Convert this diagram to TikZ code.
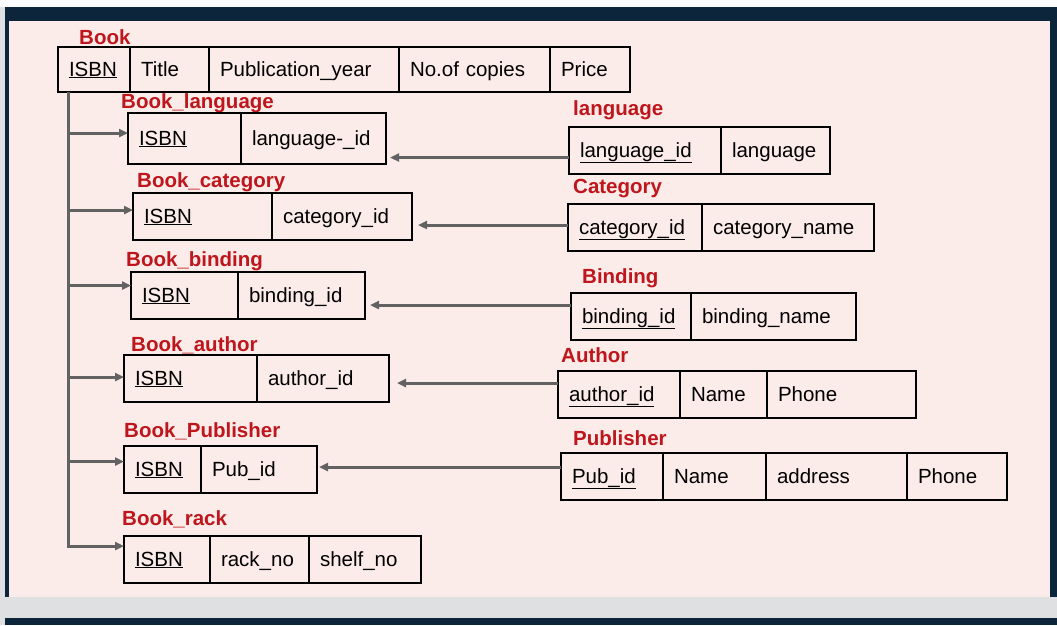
\documentclass[tikz,border=0pt]{standalone}
\usepackage{fontspec}
\setmainfont{Liberation Sans}
\usetikzlibrary{positioning,arrows.meta}
\definecolor{slidenavy}{RGB}{12,37,58}
\definecolor{slidepink}{RGB}{252,236,233}
\definecolor{slidegray}{RGB}{222,224,225}
\definecolor{tblred}{RGB}{190,22,28}
\definecolor{linkgray}{RGB}{98,98,98}

\begin{document}
\begin{tikzpicture}[x=1pt, y=-1pt,
    every node/.style={font=\fontsize{20.5}{24}\selectfont},
    cell/.style={rectangle, draw=black, line width=2.2pt, outer sep=0pt,
        inner xsep=11pt, text height=13pt, text depth=0pt, align=left,
        minimum height=47pt, minimum width=#1, text width=#1-22pt},
    tname/.style={text=tblred, font=\fontsize{20.5}{24}\selectfont\bfseries,
        anchor=base west, inner sep=0pt},
    link/.style={linkgray, line width=3pt},
    fk/.style={link, -{Triangle[length=9pt,width=8pt]}}
]
    % slide background
    \fill[slidegray] (0,0) rectangle (1057,625);
    \fill[white!92!slidegray] (0,0) rectangle (1057,7);
    \fill[slidenavy] (5,7) rectangle (1057,597);
    \fill[slidepink] (9,21) rectangle (1050,597);
    \fill[slidenavy] (5,618) rectangle (1057,625);
    \useasboundingbox (0,0) rectangle (1057,625);

    % Book
    \node[tname] (t-book) at (79,44) {Book};
    \node[cell=72pt, minimum height=45pt, anchor=north west] (book-isbn) at (58,47) {\underline{ISBN}};
    \node[cell=79pt, minimum height=45pt, right=0pt of book-isbn] (book-title) {Title};
    \node[cell=190pt, minimum height=45pt, right=0pt of book-title] (book-year) {Publication\_year};
    \node[cell=151pt, minimum height=45pt, right=0pt of book-year] (book-copies) {No.of copies};
    \node[cell=80pt, minimum height=45pt, right=0pt of book-copies] (book-price) {Price};

    % link tables
    \node[tname] (t-bl) at (121,108) {Book\_language};
    \node[cell=113pt, minimum height=51pt, anchor=north west] (bl-isbn) at (128,113) {\underline{ISBN}};
    \node[cell=145pt, minimum height=51pt, right=0pt of bl-isbn] (bl-lang) {language-\_id};

    \node[tname] (t-bc) at (137,187) {Book\_category};
    \node[cell=139pt, anchor=north west] (bc-isbn) at (133,193) {\underline{ISBN}};
    \node[cell=140pt, right=0pt of bc-isbn] (bc-cat) {category\_id};

    \node[tname] (t-bb) at (126,266) {Book\_binding};
    \node[cell=107pt, anchor=north west] (bb-isbn) at (131,272) {\underline{ISBN}};
    \node[cell=127pt, right=0pt of bb-isbn] (bb-bind) {binding\_id};

    \node[tname] (t-ba) at (131,351) {Book\_author};
    \node[cell=133pt, anchor=north west] (ba-isbn) at (124,355) {\underline{ISBN}};
    \node[cell=132pt, right=0pt of ba-isbn] (ba-auth) {author\_id};

    \node[tname] (t-bp) at (124,437) {Book\_Publisher};
    \node[cell=77pt, anchor=north west] (bp-isbn) at (124,446) {\underline{ISBN}};
    \node[cell=116pt, right=0pt of bp-isbn] (bp-pub) {Pub\_id};

    \node[tname] (t-br) at (122,525) {Book\_rack};
    \node[cell=86pt, anchor=north west] (br-isbn) at (124,536) {\underline{ISBN}};
    \node[cell=99pt, right=0pt of br-isbn] (br-rack) {rack\_no};
    \node[cell=112pt, right=0pt of br-rack] (br-shelf) {shelf\_no};

    % lookup tables
    \node[tname] (t-lang) at (573,115) {language};
    \node[cell=152pt, anchor=north west] (lang-id) at (569,127) {\underline{language\_id}};
    \node[cell=109pt, right=0pt of lang-id] (lang-name) {language};

    \node[tname] (t-cat) at (573,193) {Category};
    \node[cell=134pt, anchor=north west] (cat-id) at (568,204) {\underline{category\_id}};
    \node[cell=172pt, right=0pt of cat-id] (cat-name) {category\_name};

    \node[tname] (t-bind) at (582,283) {Binding};
    \node[cell=120pt, anchor=north west] (bind-id) at (571,293) {\underline{binding\_id}};
    \node[cell=165pt, right=0pt of bind-id] (bind-name) {binding\_name};

    \node[tname] (t-auth) at (561,362) {Author};
    \node[cell=122pt, anchor=north west] (auth-id) at (558,371) {\underline{author\_id}};
    \node[cell=87pt, right=0pt of auth-id] (auth-name) {Name};
    \node[cell=149pt, right=0pt of auth-name] (auth-phone) {Phone};

    \node[tname] (t-pub) at (573,445) {Publisher};
    \node[cell=102pt, anchor=north west] (pub-id) at (561,453) {\underline{Pub\_id}};
    \node[cell=103pt, right=0pt of pub-id] (pub-name) {Name};
    \node[cell=141pt, right=0pt of pub-name] (pub-addr) {address};
    \node[cell=100pt, right=0pt of pub-addr] (pub-phone) {Phone};

    % ISBN links
    \coordinate (trunk) at ([xshift=10pt]book-isbn.south west);
    \draw[fk] (trunk) |- ([yshift=13.5pt]br-isbn.west);
    \draw[fk] ([yshift=5.5pt]bl-isbn.west -| trunk) -- ([yshift=5.5pt]bl-isbn.west);
    \draw[fk] ([yshift=6.5pt]bc-isbn.west -| trunk) -- ([yshift=6.5pt]bc-isbn.west);
    \draw[fk] ([yshift=10pt]bb-isbn.west -| trunk) -- ([yshift=10pt]bb-isbn.west);
    \draw[fk] ([yshift=1.5pt]ba-isbn.west -| trunk) -- ([yshift=1.5pt]ba-isbn.west);
    \draw[fk] ([yshift=8pt]bp-isbn.west -| trunk) -- ([yshift=8pt]bp-isbn.west);

    % foreign keys
    \draw[fk, shorten >=4pt] ([yshift=-7pt]lang-id.west) -- ([yshift=-7pt]lang-id.west -| bl-lang.east);
    \draw[fk, shorten >=6pt] ([yshift=2.5pt]cat-id.west) -- ([yshift=2.5pt]cat-id.west -| bc-cat.east);
    \draw[fk, shorten >=5pt] ([yshift=11.5pt]bind-id.west) -- ([yshift=11.5pt]bind-id.west -| bb-bind.east);
    \draw[fk, shorten >=8pt] ([yshift=11.5pt]auth-id.west) -- ([yshift=11.5pt]auth-id.west -| ba-auth.east);
    \draw[fk, shorten >=2pt] ([yshift=9.5pt]pub-id.west) -- ([yshift=9.5pt]pub-id.west -| bp-pub.east);
\end{tikzpicture}
\end{document}
